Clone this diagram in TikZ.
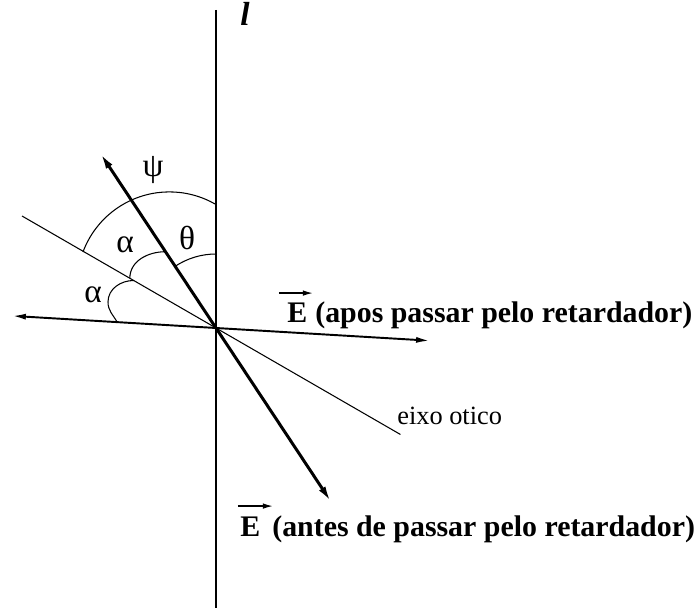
\documentclass[tikz,border=0pt]{standalone}
\usepackage{fontspec}
\setmainfont{Liberation Serif}
\usetikzlibrary{arrows.meta}

\begin{document}
\begin{tikzpicture}[
  lbl/.style={inner sep=0pt, font=\fontsize{19}{22}\selectfont},
  vlbl/.style={inner sep=0pt, anchor=base west, font=\fontsize{17}{20}\selectfont\bfseries},
  vecarr/.style={line width=0.8pt, -{Latex[length=0.2cm,width=0.11cm]}},
  arcline/.style={line width=0.6pt},
  twohead/.style={{Latex[length=#1,width=0.45*#1]}-{Latex[length=#1,width=0.45*#1]}}
]
  \useasboundingbox (-4.32,-5.62) rectangle (9.58,6.56);
  \coordinate (O) at (0,0);
  \coordinate (ltop) at (0,6.36);
  \coordinate (lbot) at (0,-5.6);
  \coordinate (psitip) at (123.5:4.2);
  \coordinate (Ebef) at (-56.5:4.18);
  \coordinate (eixoA) at (150:4.48);
  \coordinate (eixoB) at (-30:4.26);
  \coordinate (Eleft) at (176.6:4.08);
  \coordinate (Eright) at (-3.4:4.28);
  % axes
  \draw[line width=0.9pt] (ltop) -- (lbot);
  \draw[line width=0.6pt] (eixoA) -- (eixoB);
  \draw[line width=1.1pt,twohead=0.27cm] (Eleft) -- (Eright);
  \draw[line width=1.7pt,twohead=0.33cm] (psitip) -- (Ebef);
  % angles
  \draw[arcline] (-0.932,0.878) ++(60.3:1.844) arc[start angle=60.3, end angle=159.6, radius=1.844];
  \draw[arcline] (90:1.48) arc[start angle=90, end angle=123.5, radius=1.48];
  \draw[arcline] (123.5:1.83) to[out=180,in=90] (150:1.99);
  \draw[arcline] (150:1.9) to[out=180,in=90] (-2.16,0.52) to[out=-90,in=120] (176.6:1.98);
  \node[lbl] (psi) at (-1.26,3.16) {ψ};
  \node[lbl] (theta) at (-0.58,1.80) {θ};
  \node[lbl] (alphaA) at (-1.82,1.66) {α};
  \node[lbl] (alphaB) at (-2.46,0.66) {α};
  \node[lbl, font=\fontsize{19}{22}\selectfont\bfseries\itshape] (l) at (0.58,6.28) {l};
  \node[inner sep=0pt, anchor=base west, font=\fontsize{15}{18}\selectfont] (eixo) at (3.62,-1.94) {eixo otico};
  % vectors
  \node[vlbl] (Ea) at (1.42,0.10) {E};
  \node[vlbl] (apos) at (1.98,0.10) {(apos passar pelo retardador)};
  \draw[vecarr] ([shift={(-0.16,0.2)}]Ea.north west) -- ([shift={(0.52,0.2)}]Ea.north west);
  \node[vlbl] (Eb) at (0.48,-4.18) {E};
  \node[vlbl] (antes) at (1.12,-4.18) {(antes de passar pelo retardador)};
  \draw[vecarr] ([shift={(-0.04,0.22)}]Eb.north west) -- ([shift={(0.66,0.22)}]Eb.north west);
\end{tikzpicture}
\end{document}
